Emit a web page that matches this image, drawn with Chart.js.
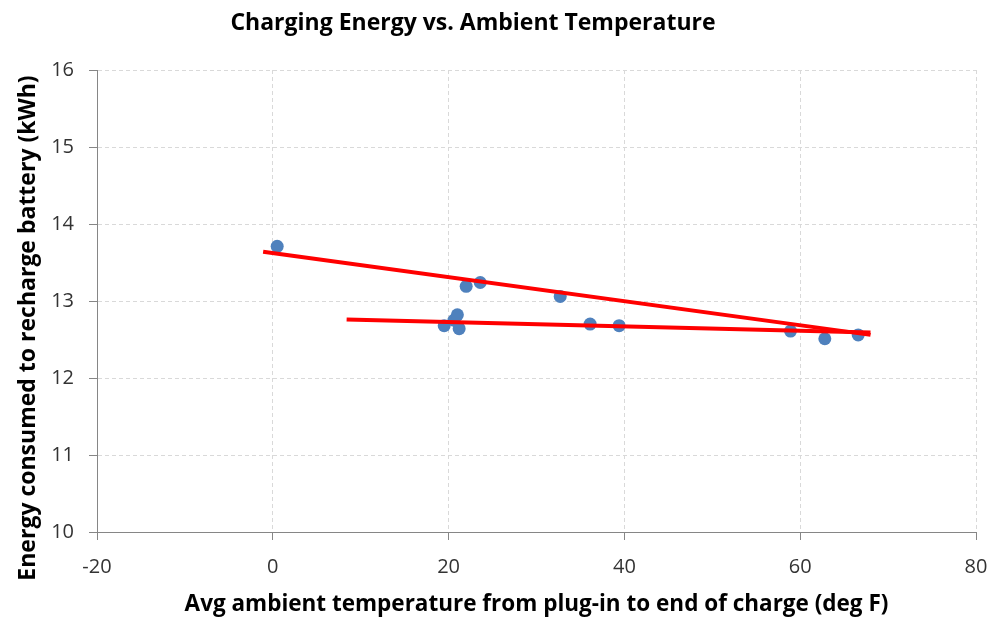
<!DOCTYPE html>
<html>
<head>
    <meta charset="UTF-8">
    <title>Charging Energy vs. Ambient Temperature</title>
    <script src="https://cdn.jsdelivr.net/npm/chart.js"></script>
    <style>
        html, body {
            margin: 0;
            padding: 0;
            background: #ffffff;
        }

        #chart-container {
            width: 1004px;
            height: 620px;
        }
    </style>
</head>
<body>
<div id="chart-container">
    <canvas id="energyChart"></canvas>
</div>

<script>
    // measured points (deg F, kWh)
    const temps = [0.5, 19.5, 20.6, 21.0, 21.2, 22.0, 23.6, 32.7, 36.1, 39.4, 58.9, 62.8, 66.6];
    const energy = [13.71, 12.68, 12.75, 12.82, 12.64, 13.19, 13.24, 13.06, 12.70, 12.68, 12.61, 12.51, 12.56];

    // two red trend lines, start and end points
    const trendAx = [-1.1, 68.0];
    const trendAy = [13.64, 12.56];
    const trendBx = [8.4, 68.0];
    const trendBy = [12.76, 12.59];

    const xTicks = [-20, 0, 20, 40, 60, 80];
    const yTicks = [10, 11, 12, 13, 14, 15, 16];

    const chartTitle = 'Charging Energy vs. Ambient Temperature';
    const xTitle = 'Avg ambient temperature from plug-in to end of charge (deg F)';
    const yTitle = 'Energy consumed to recharge battery (kWh)';

    const toPoints = (xs, ys) => xs.map((x, i) => ({x: x, y: ys[i]}));

    // title and y-axis title are placed by hand to match the source layout
    const titlesPlugin = {
        id: 'titles',
        afterDraw(chart) {
            const ctx = chart.ctx;
            ctx.save();
            ctx.fillStyle = '#000000';
            ctx.textAlign = 'center';
            ctx.textBaseline = 'middle';
            ctx.font = 'bold 23px "Open Sans"';
            ctx.fillText(chartTitle, 473, 23);

            ctx.translate(28, 328);
            ctx.rotate(-Math.PI / 2);
            ctx.font = 'bold 23px "Open Sans"';
            ctx.fillText(yTitle, 0, 0);
            ctx.restore();
        }
    };

    const gridStyle = {
        color: '#d9d9d9',
        lineWidth: 1,
        drawTicks: true,
        tickLength: 8,
        tickColor: '#868686',
        tickBorderDash: [],
        tickWidth: 1
    };

    const borderStyle = {
        color: '#868686',
        width: 1,
        dash: [4, 3]
    };

    const ctx = document.getElementById('energyChart').getContext('2d');
    new Chart(ctx, {
        type: 'scatter',
        data: {
            datasets: [
                {
                    label: 'Trend A',
                    type: 'line',
                    data: toPoints(trendAx, trendAy),
                    borderColor: '#ff0000',
                    borderWidth: 4,
                    pointRadius: 0,
                    fill: false,
                    order: 0
                },
                {
                    label: 'Trend B',
                    type: 'line',
                    data: toPoints(trendBx, trendBy),
                    borderColor: '#ff0000',
                    borderWidth: 4,
                    pointRadius: 0,
                    fill: false,
                    order: 0
                },
                {
                    label: 'Charging energy',
                    data: toPoints(temps, energy),
                    backgroundColor: '#4f81bd',
                    borderColor: '#4f81bd',
                    borderWidth: 0,
                    pointRadius: 6.5,
                    order: 1
                }
            ]
        },
        options: {
            responsive: true,
            maintainAspectRatio: false,
            animation: false,
            layout: {
                padding: {top: 70, right: 28, bottom: 0, left: 0}
            },
            scales: {
                x: {
                    type: 'linear',
                    min: -20,
                    max: 80,
                    afterBuildTicks: (scale) => {
                        scale.ticks = xTicks.map(v => ({value: v}));
                    },
                    afterFit: (scale) => {
                        scale.height = 88;
                    },
                    grid: gridStyle,
                    border: borderStyle,
                    ticks: {
                        color: '#333333',
                        font: {family: '"Open Sans"', size: 20},
                        padding: 15,
                        maxRotation: 0
                    },
                    title: {
                        display: true,
                        text: xTitle,
                        color: '#000000',
                        font: {family: '"Open Sans"', size: 22.5, weight: 'bold'},
                        padding: {top: 0, bottom: 2}
                    }
                },
                y: {
                    type: 'linear',
                    min: 10,
                    max: 16,
                    afterBuildTicks: (scale) => {
                        scale.ticks = yTicks.map(v => ({value: v}));
                    },
                    afterFit: (scale) => {
                        scale.width = 97;
                    },
                    grid: gridStyle,
                    border: borderStyle,
                    ticks: {
                        color: '#333333',
                        font: {family: '"Open Sans"', size: 20},
                        padding: 15
                    }
                }
            },
            plugins: {
                legend: {display: false},
                title: {display: false},
                tooltip: {enabled: false}
            }
        },
        plugins: [titlesPlugin]
    });
</script>
</body>
</html>
